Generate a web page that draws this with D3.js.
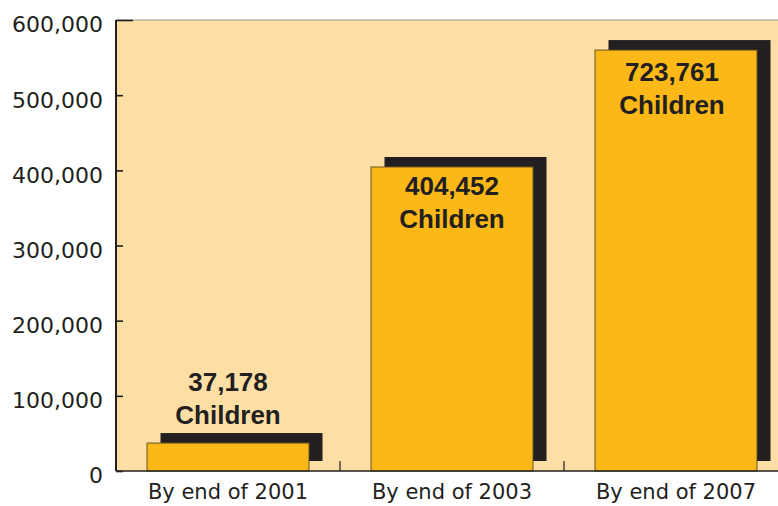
<!DOCTYPE html>
<html>
<head>
<meta charset="utf-8">
<script src="https://cdn.jsdelivr.net/npm/d3@7"></script>
<style>
  body { margin: 0; background: #fff; }
  svg { display: block; }
</style>
</head>
<body>
<div id="chart"></div>
<script>
// data
const categories = ['By end of 2001', 'By end of 2003', 'By end of 2007'];
const children = [37178, 404452, 723761];
// the last bar is drawn cut off below the top of the axis
const drawnValues = [37178, 404452, 560000];
const yTicks = [0, 100000, 200000, 300000, 400000, 500000, 600000];

const W = 778, H = 506;
const margin = { top: 20, right: -10, bottom: 35, left: 116 };

const svg = d3.select('#chart').append('svg')
    .attr('width', W)
    .attr('height', H);

const x = d3.scaleBand()
    .domain(categories)
    .range([margin.left, W - margin.right])
    .padding(0);

const y = d3.scaleLinear()
    .domain([0, 600000])
    .range([H - margin.bottom, margin.top]);

const ink = '#231f20';
const axisFont = '"DejaVu Sans", sans-serif';
const barW = 162;

// plot background
svg.append('rect')
    .attr('x', margin.left)
    .attr('y', y(600000))
    .attr('width', W - margin.left)
    .attr('height', y(0) - y(600000))
    .attr('fill', '#fddfa6');

// top border line
svg.append('line')
    .attr('x1', margin.left).attr('x2', W)
    .attr('y1', y(600000)).attr('y2', y(600000))
    .attr('stroke', '#9a9a9a')
    .attr('stroke-width', 1.2);

const rows = categories.map((c, i) => ({ cat: c, value: children[i], drawn: drawnValues[i] }));
const bx = d => x(d.cat) + (x.bandwidth() - barW) / 2;

// shadows
svg.selectAll('rect.shadow')
    .data(rows)
    .enter().append('rect')
    .attr('class', 'shadow')
    .attr('x', d => bx(d) + 13.5)
    .attr('y', d => y(d.drawn) - 10)
    .attr('width', barW)
    .attr('height', d => y(0) - y(d.drawn))
    .attr('fill', ink);

// bars
svg.selectAll('rect.bar')
    .data(rows)
    .enter().append('rect')
    .attr('class', 'bar')
    .attr('x', d => bx(d))
    .attr('y', d => y(d.drawn))
    .attr('width', barW)
    .attr('height', d => y(0) - y(d.drawn))
    .attr('fill', '#fbb817')
    .attr('stroke', '#6b5420')
    .attr('stroke-width', 1);

// value labels
const labels = svg.selectAll('g.lab')
    .data(rows)
    .enter().append('g')
    .attr('class', 'lab')
    .attr('transform', (d, i) => {
        const cx = bx(d) + barW / 2 + (i === 2 ? -4 : 0);
        const top = y(d.drawn);
        // small bar: label sits above the shadow
        const base = (y(0) - top) < 80 ? top - 10 - 9 - 33 : top + 28 + (i === 2 ? 3 : 0);
        return 'translate(' + cx + ',' + base + ')';
    })
    .style('font-family', '"Liberation Sans", Arial, sans-serif')
    .style('font-weight', 'bold')
    .style('font-size', '26px')
    .attr('fill', ink)
    .attr('text-anchor', 'middle');

labels.append('text').attr('y', 0).text(d => d3.format(',')(d.value));
labels.append('text').attr('y', 33).text('Children');

// y axis
const yAxis = svg.append('g')
    .attr('transform', 'translate(' + margin.left + ',0)')
    .call(d3.axisLeft(y).tickValues(yTicks).tickFormat(d3.format(',')).tickSize(-7).tickPadding(13));

yAxis.select('.domain')
    .attr('d', 'M0,' + y(600000) + 'V' + y(0))
    .attr('stroke', ink)
    .attr('stroke-width', 2);
yAxis.selectAll('.tick line')
    .attr('stroke', ink)
    .attr('stroke-width', 1.6)
    .attr('x2', d => d === 600000 ? 17 : 7);
yAxis.selectAll('.tick text')
    .attr('fill', ink)
    .attr('dy', '0.72em')
    .attr('y', -4)
    .style('font-family', axisFont)
    .style('font-size', '22px');

// x axis
const xAxis = svg.append('g')
    .attr('transform', 'translate(0,' + y(0) + ')');

xAxis.append('line')
    .attr('x1', margin.left).attr('x2', W)
    .attr('y1', 0).attr('y2', 0)
    .attr('stroke', ink)
    .attr('stroke-width', 1.6);

xAxis.selectAll('line.sep')
    .data(categories.slice(1))
    .enter().append('line')
    .attr('class', 'sep')
    .attr('x1', d => x(d)).attr('x2', d => x(d))
    .attr('y1', 0).attr('y2', -10)
    .attr('stroke', ink)
    .attr('stroke-width', 1.2);

xAxis.selectAll('text.cat')
    .data(categories)
    .enter().append('text')
    .attr('class', 'cat')
    .attr('x', d => x(d) + x.bandwidth() / 2)
    .attr('y', 28)
    .attr('text-anchor', 'middle')
    .attr('fill', ink)
    .style('font-family', axisFont)
    .style('font-size', '21px')
    .text(d => d);
</script>
</body>
</html>
